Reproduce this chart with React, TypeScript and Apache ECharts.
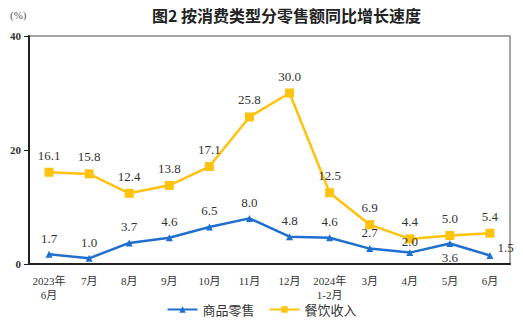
import React, { useEffect, useRef } from "react";
import * as echarts from "echarts";

const categories = ["2023年\n6月", "7月", "8月", "9月", "10月", "11月", "12月", "2024年\n1-2月", "3月", "4月", "5月", "6月"];
const goodsRetail = [1.7, 1.0, 3.7, 4.6, 6.5, 8.0, 4.8, 4.6, 2.7, 2.0, 3.6, 1.5];
const cateringRevenue = [16.1, 15.8, 12.4, 13.8, 17.1, 25.8, 30.0, 12.5, 6.9, 4.4, 5.0, 5.4];
const yTicks = [0, 20, 40];

const BLUE = "#1f6fcf";
const YELLOW = "#ffc20e";
const SERIF = "'Liberation Serif', 'DejaVu Serif', serif";
const CJK = "'Liberation Serif', 'Noto Sans CJK SC', sans-serif";

export default function App() {
  const ref = useRef<HTMLDivElement>(null);
  useEffect(() => {
    if (!ref.current) return;
    const chart = echarts.init(ref.current, undefined, { renderer: "svg" });
    const labelBase = {
      show: true,
      position: "top",
      distance: 6,
      color: "#333",
      fontFamily: SERIF,
      fontSize: 13,
      formatter: (p: any) => Number(p.value).toFixed(1),
    };
    chart.setOption({
      animation: false,
      backgroundColor: "#fff",
      graphic: [
        { type: "text", x: 10, y: 9, style: { text: "(%)", fontFamily: SERIF, fontSize: 11, fill: "#555" } },
        {
          type: "text",
          x: 152,
          y: 7,
          style: {
            text: "图2 按消费类型分零售额同比增长速度",
            fontFamily: "'Noto Sans CJK SC', sans-serif",
            fontSize: 16,
            fontWeight: "bold",
            fill: "#222",
          },
        },
      ],
      legend: {
        bottom: 3,
        left: "center",
        itemWidth: 30,
        itemHeight: 8,
        itemGap: 14,
        textStyle: { fontFamily: "'Noto Sans CJK SC', sans-serif", fontSize: 13, color: "#333" },
        data: ["商品零售", "餐饮收入"],
      },
      grid: { left: 29, right: 13, top: 36, bottom: 60, show: true, borderColor: "#888", borderWidth: 1.5 },
      xAxis: {
        type: "category",
        data: categories,
        boundaryGap: true,
        axisLine: { lineStyle: { color: "#222", width: 2 } },
        axisTick: { inside: true, length: 4, lineStyle: { color: "#222" } },
        axisLabel: { color: "#333", fontFamily: CJK, fontSize: 11, interval: 0, margin: 10, lineHeight: 14 },
      },
      yAxis: {
        type: "value",
        min: yTicks[0],
        max: yTicks[yTicks.length - 1],
        interval: 20,
        splitLine: { show: false },
        axisLine: { show: true, lineStyle: { color: "#222", width: 2 } },
        axisTick: { show: true, length: 5, lineStyle: { color: "#222" } },
        axisLabel: { color: "#333", fontFamily: SERIF, fontSize: 11, fontWeight: "bold", margin: 8 },
      },
      series: [
        {
          name: "商品零售",
          type: "line",
          data: goodsRetail.map((v, i) => {
            if (i === 10) return { value: v, label: { position: "bottom", distance: 4, color: "#333" } };
            if (i === 11) return { value: v, label: { position: "right", offset: [-2, -8], color: "#333" } };
            if (i === 9) return { value: v, label: { distance: 1, color: "#333" } };
            return v;
          }),
          symbol: "triangle",
          symbolSize: 7,
          lineStyle: { color: BLUE, width: 2.5 },
          itemStyle: { color: BLUE },
          label: { ...labelBase },
          z: 3,
        },
        {
          name: "餐饮收入",
          type: "line",
          data: cateringRevenue,
          symbol: "rect",
          symbolSize: 9,
          lineStyle: { color: YELLOW, width: 2.5 },
          itemStyle: { color: YELLOW },
          label: { ...labelBase },
          z: 2,
        },
      ],
    });
    return () => chart.dispose();
  }, []);
  return <div ref={ref} style={{ width: 523, height: 324, position: "absolute", left: 0, top: 0 }} />;
}
